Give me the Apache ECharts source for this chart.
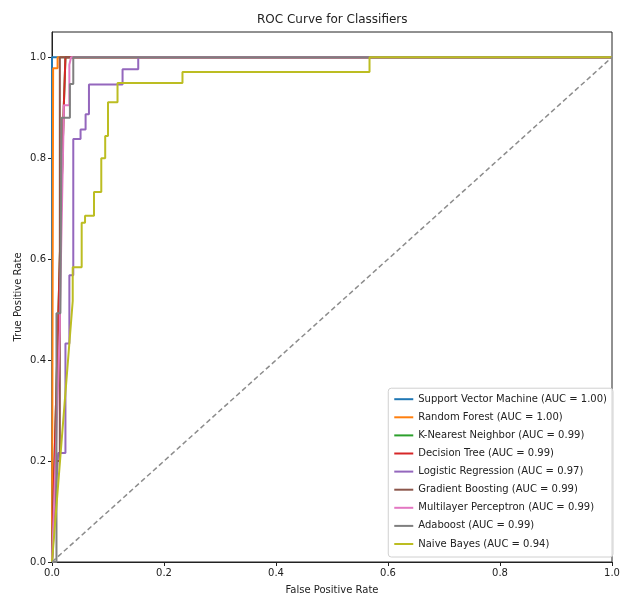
<!DOCTYPE html>
<html>
<head>
<meta charset="UTF-8">
<title>ROC Curve for Classifiers</title>
<script src="https://cdn.jsdelivr.net/npm/echarts@6/dist/echarts.min.js"></script>
<style>
  html, body { margin: 0; padding: 0; background: #fff; }
  #chart { width: 633px; height: 597px; }
</style>
</head>
<body>
<div id="chart"></div>
<script>
// classifier names and AUC as printed in the legend
var names = ['Support Vector Machine', 'Random Forest', 'K-Nearest Neighbor', 'Decision Tree',
             'Logistic Regression', 'Gradient Boosting', 'Multilayer Perceptron', 'Adaboost', 'Naive Bayes'];
var aucs = ['1.00', '1.00', '0.99', '0.99', '0.97', '0.99', '0.99', '0.99', '0.94'];
var colors = ['#1f77b4', '#ff7f0e', '#2ca02c', '#d62728', '#9467bd', '#8c564b', '#e377c2', '#7f7f7f', '#bcbd22'];

// [fpr, tpr] points
var rocSvm = [[0, 0], [0, 1], [1, 1]];
var rocRf = [[0, 0], [0.002, 0], [0.002, 0.978], [0.01, 0.978], [0.01, 1], [1, 1]];
var rocKnn = [[0, 0], [0.002, 0.095], [0.021, 0.9], [0.024, 1], [1, 1]];
var rocDt = [[0, 0], [0.002, 0.095], [0.021, 0.9], [0.024, 1], [1, 1]];
var rocLr = [[0, 0], [0.011, 0.216], [0.024, 0.216], [0.024, 0.433], [0.031, 0.433], [0.031, 0.568],
             [0.038, 0.568], [0.038, 0.838], [0.051, 0.838], [0.051, 0.857], [0.060, 0.857], [0.060, 0.887],
             [0.066, 0.887], [0.066, 0.946], [0.126, 0.946], [0.126, 0.976], [0.154, 0.976], [0.154, 1], [1, 1]];
var rocGb = [[0, 0], [0.008, 0.2], [0.014, 0.2], [0.014, 1], [1, 1]];
var rocMlp = [[0, 0], [0.003, 0.09], [0.014, 0.46], [0.014, 0.49], [0.021, 0.885], [0.021, 0.905],
              [0.031, 0.905], [0.031, 0.985], [0.034, 0.985], [0.034, 1], [1, 1]];
var rocAda = [[0, 0], [0.008, 0], [0.008, 0.493], [0.015, 0.493], [0.017, 0.88], [0.032, 0.88],
              [0.032, 0.947], [0.038, 0.947], [0.038, 1], [1, 1]];
var rocNb = [[0, 0], [0.037, 0.517], [0.037, 0.584], [0.053, 0.584], [0.053, 0.672], [0.059, 0.672],
             [0.059, 0.686], [0.075, 0.686], [0.075, 0.733], [0.088, 0.733], [0.088, 0.80], [0.095, 0.80],
             [0.095, 0.844], [0.1, 0.844], [0.1, 0.911], [0.117, 0.911], [0.117, 0.949], [0.233, 0.949],
             [0.233, 0.971], [0.567, 0.971], [0.567, 1], [1, 1]];
var curves = [rocSvm, rocRf, rocKnn, rocDt, rocLr, rocGb, rocMlp, rocAda, rocNb];
var chance = [[0, 0], [1, 1]];
var ticks = [0, 0.2, 0.4, 0.6, 0.8, 1.0];

var font = 'DejaVu Sans';
var ink = '#222';

var series = curves.map(function (pts, i) {
    return {
        name: names[i] + ' (AUC = ' + aucs[i] + ')',
        type: 'line',
        data: pts,
        showSymbol: false,
        symbol: 'none',
        color: colors[i],
        lineStyle: { width: 2, color: colors[i] },
        emphasis: { disabled: true }
    };
});
series.push({
    name: 'chance',
    type: 'line',
    data: chance,
    symbol: 'none',
    lineStyle: { width: 1.5, color: '#8c8c8c', type: [5, 3] },
    emphasis: { disabled: true }
});

var chart = echarts.init(document.getElementById('chart'));
chart.setOption({
    animation: false,
    title: {
        text: 'ROC Curve for Classifiers',
        left: 257, top: 14, padding: 0,
        textStyle: { fontFamily: font, fontSize: 12, fontWeight: 'normal', color: ink }
    },
    grid: {
        left: 52, right: 21, top: 32, bottom: 35,
        containLabel: false, outerBoundsMode: 'none',
        show: true, borderColor: ink, borderWidth: 1, backgroundColor: 'transparent'
    },
    legend: {
        data: series.slice(0, 9).map(function (s) { return s.name; }),
        orient: 'vertical',
        right: 20, bottom: 40,
        icon: 'rect',
        itemWidth: 19, itemHeight: 2, itemGap: 6.1,
        padding: [5, 6, 7, 6],
        backgroundColor: 'rgba(255,255,255,0.8)',
        borderColor: '#d0d0d0', borderWidth: 1, borderRadius: 3,
        textStyle: { fontFamily: font, fontSize: 10, color: ink, lineHeight: 12 },
        selectedMode: false
    },
    xAxis: {
        type: 'value', min: 0, max: 1, interval: 0.2,
        name: 'False Positive Rate', nameLocation: 'middle', nameGap: 23,
        nameTextStyle: { fontFamily: font, fontSize: 10, color: ink },
        axisLine: { lineStyle: { color: ink, width: 1 } },
        axisTick: { show: true, length: 4, lineStyle: { color: ink } },
        axisLabel: { fontFamily: font, fontSize: 10, color: ink, margin: 6,
                     formatter: function (v) { return v.toFixed(1); } },
        splitLine: { show: false }
    },
    yAxis: {
        type: 'value', min: 0, max: 1.05,
        name: 'True Positive Rate', nameLocation: 'middle', nameGap: 29, nameRotate: 90,
        nameMoveOverlap: false,
        nameTextStyle: { fontFamily: font, fontSize: 10, color: ink },
        axisLine: { show: true, lineStyle: { color: ink, width: 1 } },
        axisTick: { show: true, length: 4, lineStyle: { color: ink }, customValues: ticks },
        axisLabel: { fontFamily: font, fontSize: 10, color: ink, margin: 6, customValues: ticks,
                     formatter: function (v) { return v.toFixed(1); } },
        splitLine: { show: false }
    },
    series: series
});
</script>
</body>
</html>
